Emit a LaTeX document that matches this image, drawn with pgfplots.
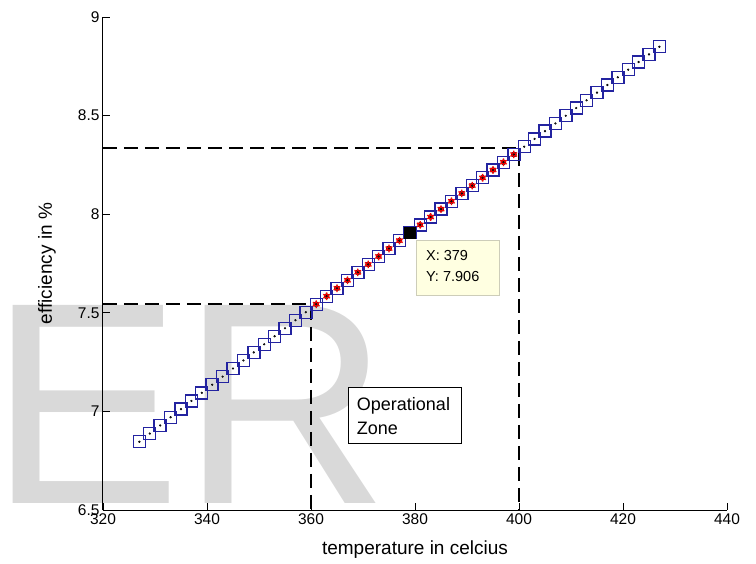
\documentclass[border=0pt]{standalone}
\usepackage{fontspec}
\setmainfont{Liberation Sans}
\usepackage{pgfplots}
\usepackage{pgfplotstable}
\pgfplotsset{compat=1.18}
\definecolor{mblue}{RGB}{35,35,160}
\definecolor{wm}{RGB}{217,217,217}
\definecolor{tipfill}{RGB}{255,255,225}
\definecolor{tipedge}{RGB}{205,205,185}
\pgfplotstableread{
x y
327 6.8460
329 6.8875
331 6.9290
333 6.9704
335 7.0117
337 7.0530
339 7.0942
341 7.1353
343 7.1764
345 7.2175
347 7.2584
349 7.2993
351 7.3402
353 7.3810
355 7.4217
357 7.4624
359 7.5030
361 7.5436
363 7.5841
365 7.6246
367 7.6649
369 7.7053
371 7.7455
373 7.7857
375 7.8259
377 7.8660
379 7.9060
381 7.9460
383 7.9859
385 8.0257
387 8.0655
389 8.1053
391 8.1449
393 8.1846
395 8.2241
397 8.2636
399 8.3030
401 8.3424
403 8.3817
405 8.4210
407 8.4602
409 8.4993
411 8.5384
413 8.5775
415 8.6164
417 8.6553
419 8.6942
421 8.7330
423 8.7717
425 8.8104
427 8.8490
}\maindata
\pgfplotstableread{
x y
361 7.5436
363 7.5841
365 7.6246
367 7.6649
369 7.7053
371 7.7455
373 7.7857
375 7.8259
377 7.8660
379 7.9060
381 7.9460
383 7.9859
385 8.0257
387 8.0655
389 8.1053
391 8.1449
393 8.1846
395 8.2241
397 8.2636
399 8.3030
}\zonedata
\begin{document}
\begin{tikzpicture}
\node[anchor=base west, inner sep=0pt, text=wm, font=\fontsize{288}{288}\selectfont] at (-114pt,7pt) {ER};
\begin{axis}[
  name=ax, at={(0,0)}, anchor=south west,
  scale only axis, width=624pt, height=493pt,
  xmin=320, xmax=440, ymin=6.5, ymax=9,
  axis x line=bottom, axis y line=left,
  axis line style={-, line width=1pt, black},
  tick align=inside, major tick length=7pt,
  tick style={black, line width=0.8pt},
  xtick={320,340,360,380,400,420,440},
  ytick={6.5,7,7.5,8,8.5,9},
  /pgf/number format/assume math mode=true,
  tick label style={font=\fontsize{15.5}{18}\selectfont},
  label style={font=\fontsize{19}{22}\selectfont},
  xlabel={temperature in celcius},
  ylabel={efficiency in \%},
  xlabel style={at={(axis description cs:0.5,-0.08)}, anchor=center},
  ylabel style={at={(axis description cs:-0.09,0.5)}, anchor=center},
]
\addplot[black, line width=2.5pt, dash pattern=on 14pt off 7pt] coordinates {(320,8.336) (400,8.336) (400,6.5)};
\addplot[black, line width=2.5pt, dash pattern=on 14pt off 7pt] coordinates {(320,7.545) (360,7.545) (360,6.5)};
\addplot[only marks, mark=square, mark size=6pt, mark options={draw=mblue, line width=1.4pt}] table[x=x, y=y] {\maindata};
\addplot[only marks, mark=*, mark size=2.6pt, mark options={fill=red, draw=none}] table[x=x, y=y] {\zonedata};
\addplot[only marks, mark=asterisk, mark size=3.8pt, mark options={draw=red, line width=1.3pt}] table[x=x, y=y] {\zonedata};
\addplot[only marks, mark=*, mark size=0.9pt, mark options={fill=black!80, draw=none}] table[x=x, y=y] {\maindata};
\addplot[only marks, mark=square*, mark size=5.3pt, mark options={fill=black, draw=black}] coordinates {(379,7.906)};
\draw[draw=tipedge, fill=tipfill, line width=0.8pt] (axis cs:380.3,7.869) rectangle (axis cs:396.3,7.590);
\node[anchor=west, inner sep=0pt, font=\fontsize{14.5}{17}\selectfont] at (axis cs:382.1,7.793) {X: 379};
\node[anchor=west, inner sep=0pt, font=\fontsize{14.5}{17}\selectfont] at (axis cs:382.1,7.682) {Y: 7.906};
\draw[black, fill=white, line width=0.8pt] (axis cs:367.1,7.124) rectangle (axis cs:389.0,6.840);
\node[anchor=west, inner sep=0pt, font=\fontsize{18}{21}\selectfont] at (axis cs:368.8,7.028) {Operational};
\node[anchor=west, inner sep=0pt, font=\fontsize{18}{21}\selectfont] at (axis cs:368.8,6.912) {Zone};
\end{axis}
\pgfresetboundingbox
\path[use as bounding box] (-103pt,-53pt) rectangle (653pt,510pt);
\end{tikzpicture}
\end{document}
